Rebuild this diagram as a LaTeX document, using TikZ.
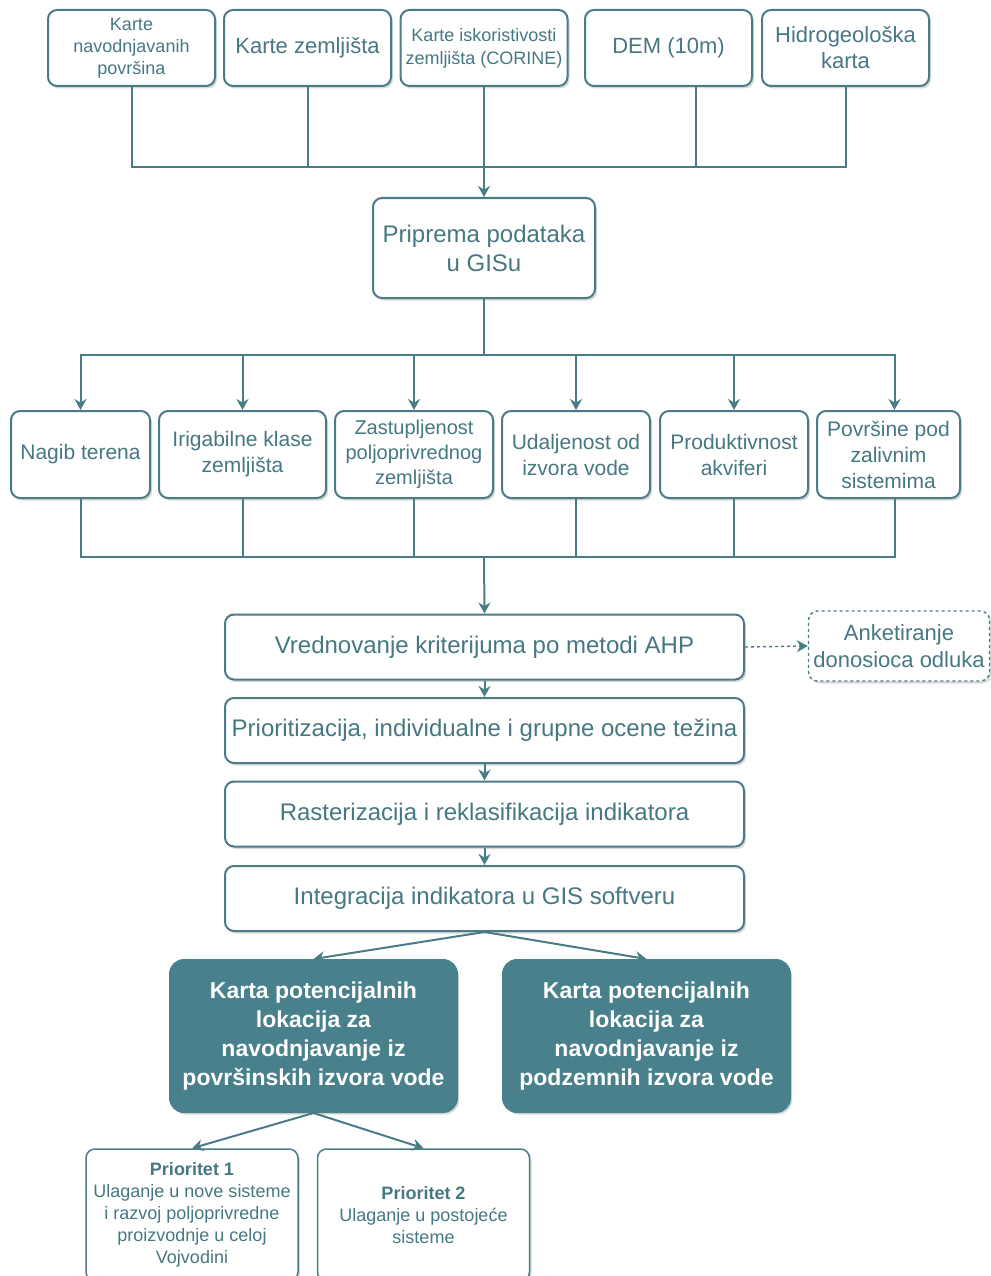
\documentclass[tikz,border=0pt]{standalone}
\usepackage{fontspec}
\setmainfont{Liberation Sans}
\usetikzlibrary{arrows.meta,shadows}
\definecolor{tline}{RGB}{74,124,134}
\definecolor{ttext}{RGB}{70,120,130}
\definecolor{tdark}{RGB}{72,128,140}
\newcommand{\fsz}[2]{\fontsize{#1}{#2}\selectfont}
\tikzset{%
    box/.style={draw=tline, line width=2pt, rounded corners=9pt, fill=white, text=ttext, align=center, inner sep=1pt,
        drop shadow={shadow xshift=2pt, shadow yshift=-2.5pt, opacity=0.25, fill=black!60}},
    src/.style={box, minimum width=167pt, minimum height=76pt},
    kri/.style={box, minimum height=87pt, font=\fsz{21}{26}},
    pro/.style={box, minimum width=519pt, minimum height=65pt, font=\fsz{24}{29}},
    map/.style={box, fill=tdark, draw=tdark, text=white, minimum width=287pt, minimum height=152pt, rounded corners=14pt, font=\bfseries\fsz{23}{29}},
    pri/.style={box, line width=1.5pt, minimum width=212pt, minimum height=132pt, font=\fsz{18}{22}},
    lin/.style={draw=tline, line width=2pt},
    pra/.style={lin, -{Stealth[length=11pt, width=12pt]}}
}

\begin{document}
\begin{tikzpicture}[x=1pt,y=-1pt]
    \useasboundingbox (0,0) rectangle (990,1276);
    \node[src, font=\fsz{18}{22}] (k1) at (131.5,48) {Karte\\navodnjavanih\\površina};
    \node[src, font=\fsz{22}{26}] (k2) at (307.5,48) {Karte zemljišta};
    \node[src, font=\fsz{18}{23}] (k3) at (484,48) {Karte iskoristivosti\\zemljišta (CORINE)};
    \node[src, font=\fsz{22}{26}] (k4) at (668.5,48) {DEM (10m)};
    \node[src, font=\fsz{22}{26}] (k5) at (845.5,48) {Hidrogeološka\\karta};
    \node[box, minimum width=222pt, minimum height=100pt, font=\fsz{24}{29}] (gis) at (484,248) {Priprema podataka\\u GISu};
    \coordinate (j1) at (484,167);
    \coordinate (j2) at (484,355);
    \coordinate (j3) at (484,557);
    \draw[lin] (k1.south) |- (j1);
    \draw[lin] (k2.south) |- (j1);
    \draw[lin] ([xshift=27pt]k4.south) |- (j1);
    \draw[lin] (k5.south) |- (j1);
    \draw[pra] (k3.south) -- (gis.north);
    \node[kri, minimum width=139pt] (n1) at (80.5,454.5) {Nagib terena};
    \node[kri, minimum width=167pt] (n2) at (242.5,454.5) {Irigabilne klase\\zemljišta};
    \node[kri, minimum width=158pt, font=\fsz{20}{25}] (n3) at (414,454.5) {Zastupljenost\\poljoprivrednog\\zemljišta};
    \node[kri, minimum width=148pt] (n4) at (576,454.5) {Udaljenost od\\izvora vode};
    \node[kri, minimum width=148pt] (n5) at (734,454.5) {Produktivnost\\akviferi};
    \node[kri, minimum width=143pt] (n6) at (888.5,454.5) {Površine pod\\zalivnim\\sistemima};
    \draw[lin] (gis.south) -- (j2);
    \foreach \n in {n1,n2,n3,n4,n5} \draw[pra] (j2) -| (\n.north);
    \draw[pra] (j2) -| ([xshift=6pt]n6.north);
    \foreach \n in {n1,n2,n3,n4,n5} \draw[lin] (\n.south) |- (j3);
    \draw[lin] ([xshift=6pt]n6.south) |- (j3);
    \node[pro] (ahp) at (484.5,647) {Vrednovanje kriterijuma po metodi AHP};
    \node[pro] (prio) at (484.5,730.5) {Prioritizacija, individualne i grupne ocene težina};
    \node[pro] (ras) at (484.5,814) {Rasterizacija i reklasifikacija indikatora};
    \node[pro] (int) at (484.5,898.5) {Integracija indikatora u GIS softveru};
    \node[box, dashed, line width=1.4pt, minimum width=181pt, minimum height=70pt, font=\fsz{22}{27}] (ank) at (899,646) {Anketiranje\\donosioca odluka};
    \draw[pra] (j3) -- (ahp.north);
    \draw[pra, dashed, line width=1.4pt] (ahp.east) -- (ank.west);
    \draw[pra] (ahp) -- (prio);
    \draw[pra] (prio) -- (ras);
    \draw[pra] (ras) -- (int);
    \node[map] (m1) at (313.5,1036) {Karta potencijalnih\\lokacija za\\navodnjavanje iz\\površinskih izvora vode};
    \node[map] (m2) at (646.5,1036) {Karta potencijalnih\\lokacija za\\navodnjavanje iz\\podzemnih izvora vode};
    \draw[pra] (int.south) -- (m1.north);
    \draw[pra] (int.south) -- (m2.north);
    \node[pri] (p1) at (192,1215) {\textbf{Prioritet 1}\\Ulaganje u nove sisteme\\i razvoj poljoprivredne\\proizvodnje u celoj\\Vojvodini};
    \node[pri] (p2) at (423.5,1215) {\textbf{Prioritet 2}\\Ulaganje u postojeće\\sisteme};
    \draw[pra] (m1.south) -- (p1.north);
    \draw[pra] (m1.south) -- (p2.north);
\end{tikzpicture}
\end{document}
